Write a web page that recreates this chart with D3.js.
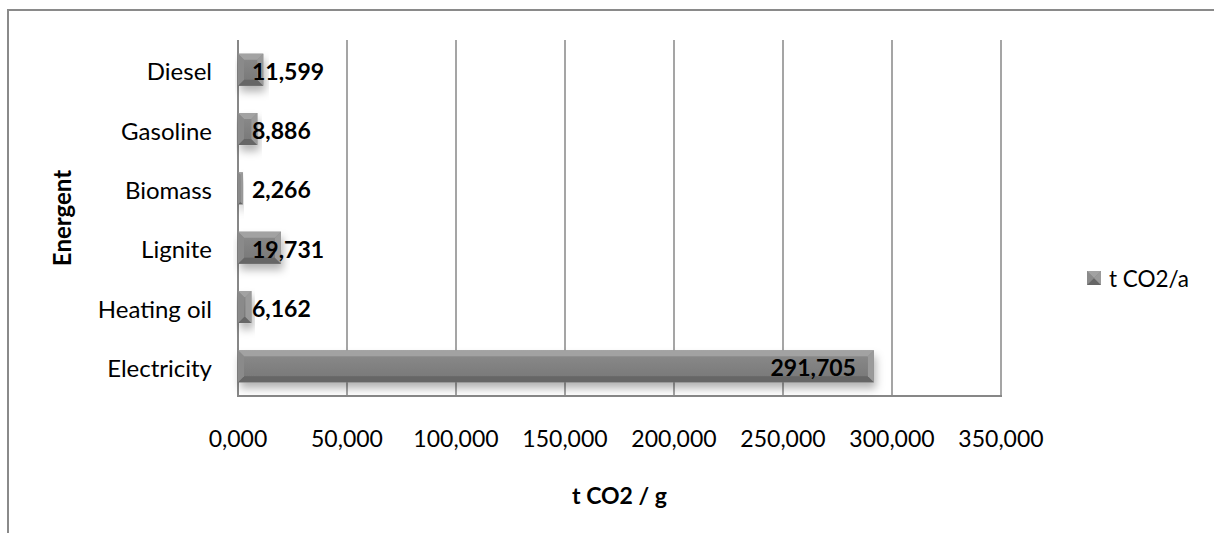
<!DOCTYPE html>
<html>
<head>
<meta charset="utf-8">
<script src="https://cdn.jsdelivr.net/npm/d3@7"></script>
<style>
  html, body { margin: 0; padding: 0; background: #fff; }
  svg { display: block; }
  text { font-family: Lato, "Noto Sans", sans-serif; fill: #000; }
</style>
</head>
<body>
<svg id="chart" width="1214" height="533"></svg>
<script>
// Energy carriers, bottom to top as listed in the chart
const categories = ["Electricity", "Heating oil", "Lignite", "Biomass", "Gasoline", "Diesel"];
// Emissions per carrier (t CO2 per year)
const emissions = [291.705, 6.162, 19.731, 2.266, 8.886, 11.599];
// Value axis ticks
const xTicks = [0, 50, 100, 150, 200, 250, 300, 350];

const seriesName = "t CO2/a";
const xTitle = "t CO2 / g";
const yTitle = "Energent";

const de = d3.formatLocale({ decimal: ",", thousands: ".", grouping: [3], currency: ["", " €"] });
const fmt = de.format(".3f");

const svg = d3.select("#chart");
const plot = { left: 238, right: 1001, top: 40, bottom: 396 };

const x = d3.scaleLinear().domain([0, 350]).range([plot.left, plot.right]);
const y = d3.scaleBand()
  .domain(categories.slice().reverse())
  .range([plot.top, plot.bottom])
  .paddingInner(0.46)
  .paddingOuter(0.23);

const defs = svg.append("defs");

const barGrad = defs.append("linearGradient").attr("id", "barGrad")
  .attr("x1", 0).attr("y1", 0).attr("x2", 0).attr("y2", 1);
barGrad.append("stop").attr("offset", "0%").attr("stop-color", "#8c8c8c");
barGrad.append("stop").attr("offset", "50%").attr("stop-color", "#818181");
barGrad.append("stop").attr("offset", "100%").attr("stop-color", "#767676");

const shadow = defs.append("filter").attr("id", "shadow")
  .attr("x", "-10%").attr("y", "-40%").attr("width", "130%").attr("height", "200%");
shadow.append("feDropShadow").attr("dx", 2).attr("dy", 6)
  .attr("stdDeviation", 4).attr("flood-color", "#000").attr("flood-opacity", 0.3);

// Outer chart border
svg.append("rect")
  .attr("x", 8).attr("y", 10).attr("width", 1220).attr("height", 540)
  .attr("fill", "none").attr("stroke", "#8a8a8a").attr("stroke-width", 2);

// Vertical gridlines
svg.append("g").selectAll("line").data(xTicks.slice(1)).join("line")
  .attr("x1", d => x(d)).attr("x2", d => x(d))
  .attr("y1", plot.top).attr("y2", plot.bottom)
  .attr("stroke", "#878787").attr("stroke-width", 1.5);

// Category axis line
svg.append("line")
  .attr("x1", plot.left).attr("x2", plot.left)
  .attr("y1", plot.top).attr("y2", plot.bottom)
  .attr("stroke", "#878787").attr("stroke-width", 2);

// Floor line
svg.append("line")
  .attr("x1", plot.left - 1).attr("x2", plot.right + 1)
  .attr("y1", plot.bottom).attr("y2", plot.bottom)
  .attr("stroke", "#878787").attr("stroke-width", 2);

// Bevelled bar
function bevelBar(g, x0, x1, y0, y1, bevel, withShadow) {
  const b = Math.min(bevel, (x1 - x0) / 2, (y1 - y0) / 2);
  const r = g.append("rect").attr("x", x0).attr("y", y0)
    .attr("width", x1 - x0).attr("height", y1 - y0)
    .attr("fill", "url(#barGrad)");
  if (withShadow) r.attr("filter", "url(#shadow)");
  g.append("polygon")
    .attr("points", [[x0, y0], [x1, y0], [x1 - b, y0 + b], [x0 + b, y0 + b]].join(" "))
    .attr("fill", "#a2a2a2");
  g.append("polygon")
    .attr("points", [[x0, y1], [x1, y1], [x1 - b, y1 - b], [x0 + b, y1 - b]].join(" "))
    .attr("fill", "#666666");
  g.append("polygon")
    .attr("points", [[x1, y0], [x1, y1], [x1 - b, y1 - b], [x1 - b, y0 + b]].join(" "))
    .attr("fill", "#9a9a9a");
  g.append("polygon")
    .attr("points", [[x0, y0], [x0, y1], [x0 + b, y1 - b], [x0 + b, y0 + b]].join(" "))
    .attr("fill", "#8a8a8a");
}

const rows = categories.map((c, i) => ({ cat: c, value: emissions[i] }));

const bars = svg.append("g");
rows.forEach(d => {
  const g = bars.append("g");
  bevelBar(g, x(0), x(d.value), y(d.cat), y(d.cat) + y.bandwidth(), 6, true);
});

// Value labels
const labels = svg.append("g");
rows.forEach(d => {
  const t = labels.append("text")
    .attr("y", y(d.cat) + y.bandwidth() / 2 + 1)
    .attr("dominant-baseline", "central")
    .attr("font-size", 23).attr("font-weight", "bold")
    .text(fmt(d.value));
  const w = t.node().getComputedTextLength();
  const barW = x(d.value) - x(0);
  if (barW > w + 40) {
    t.attr("x", x(d.value) - 18).attr("text-anchor", "end");
  } else {
    t.attr("x", x(0) + 14).attr("text-anchor", "start");
  }
});

// Category labels
svg.append("g").selectAll("text").data(categories).join("text")
  .attr("x", 212)
  .attr("y", d => y(d) + y.bandwidth() / 2 + 1)
  .attr("text-anchor", "end").attr("dominant-baseline", "central")
  .attr("font-size", 24)
  .text(d => d);

// Value axis tick labels
svg.append("g").selectAll("text").data(xTicks).join("text")
  .attr("x", d => x(d)).attr("y", 438)
  .attr("text-anchor", "middle").attr("dominant-baseline", "central")
  .attr("font-size", 23)
  .text(d => fmt(d));

// Axis titles
svg.append("text")
  .attr("x", (plot.left + plot.right) / 2).attr("y", 495)
  .attr("text-anchor", "middle").attr("dominant-baseline", "central")
  .attr("font-size", 23).attr("font-weight", "bold")
  .text(xTitle);

svg.append("text")
  .attr("transform", `translate(61,${(plot.top + plot.bottom) / 2}) rotate(-90)`)
  .attr("text-anchor", "middle").attr("dominant-baseline", "central")
  .attr("font-size", 24).attr("font-weight", "bold")
  .text(yTitle);

// Legend
const lg = svg.append("g");
bevelBar(lg, 1087, 1101, 271, 285, 7, false);
lg.append("text")
  .attr("x", 1109).attr("y", 278)
  .attr("dominant-baseline", "central")
  .attr("font-size", 22.5)
  .text(seriesName);
</script>
</body>
</html>
